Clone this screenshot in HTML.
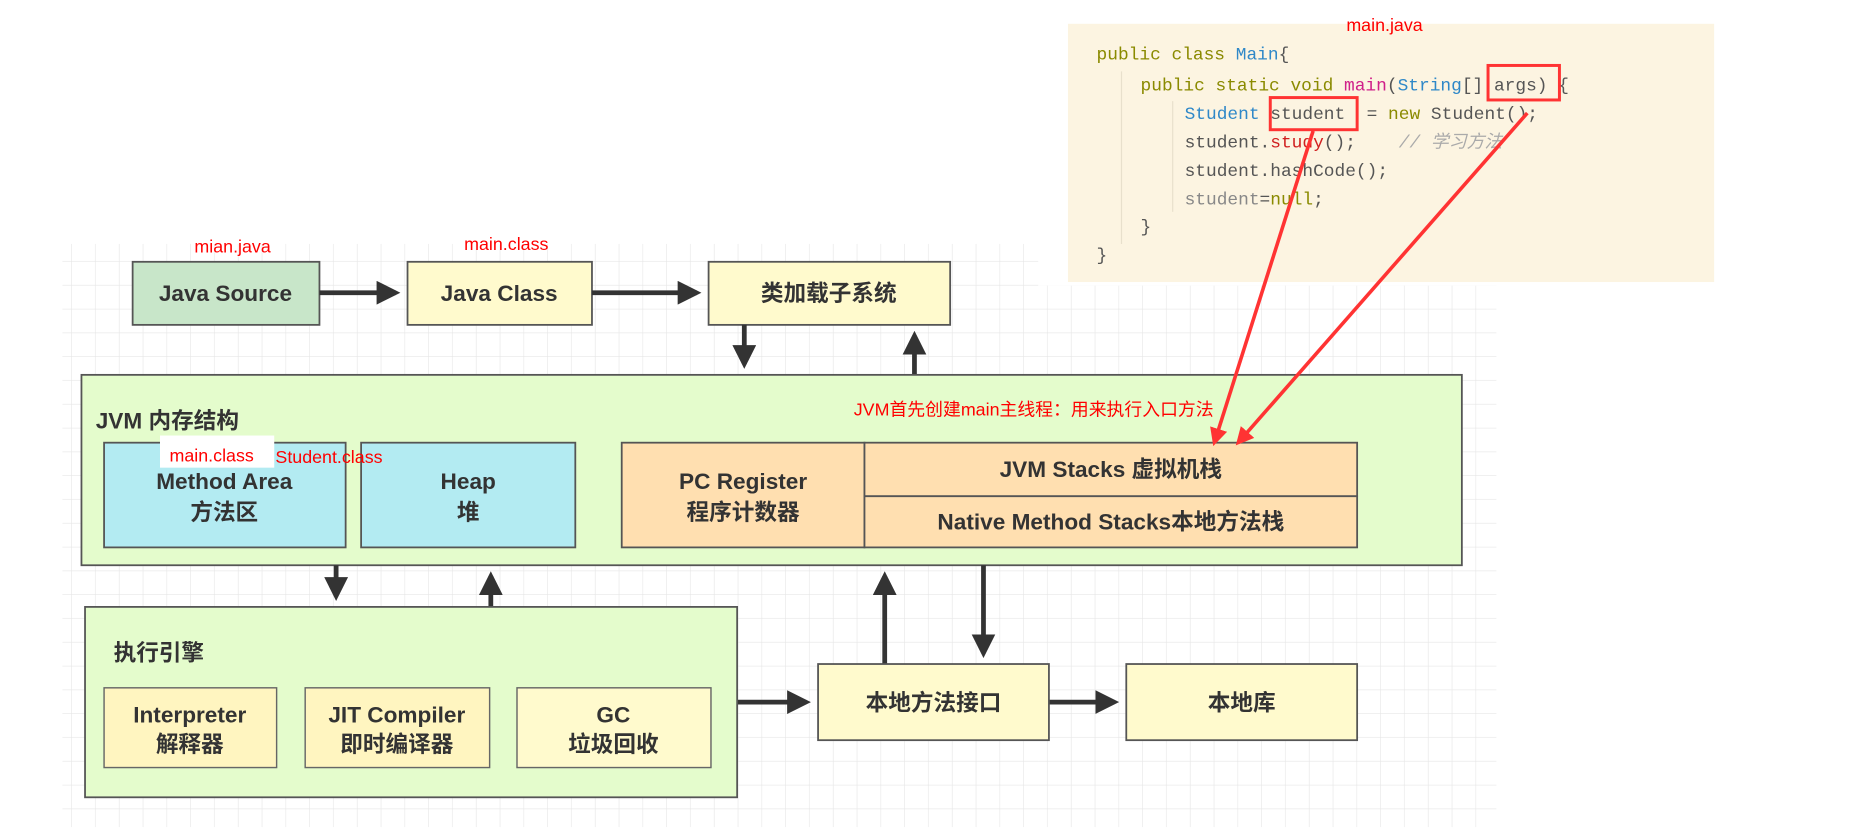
<!DOCTYPE html>
<html><head><meta charset="utf-8"><style>
html,body{margin:0;padding:0;background:#fff;width:1867px;height:833px;overflow:hidden}
svg{display:block}
text{white-space:pre}
.b{font-family:"Liberation Sans","Noto Sans CJK SC",sans-serif;font-weight:bold;fill:#333;font-size:19px}
.r{font-family:"Liberation Sans","Noto Sans CJK SC",sans-serif;fill:#f00;font-size:15px}
.c{font-family:"Liberation Mono","Noto Sans CJK SC",monospace;font-size:15px}
</style></head><body>
<svg width="1867" height="833" viewBox="0 0 1568 700" xmlns="http://www.w3.org/2000/svg">
<defs>
<pattern id="g" width="20" height="20" patternUnits="userSpaceOnUse"><path d="M20 0V20H0" fill="none" stroke="#e6e6e6" stroke-width="1"/></pattern>
<marker id="a" markerWidth="5" markerHeight="5" refX="4" refY="2.5" orient="auto" markerUnits="strokeWidth"><path d="M0 0L5 2.5L0 5z" fill="#333"/></marker>
<marker id="ra" markerWidth="5" markerHeight="5" refX="4" refY="2.5" orient="auto" markerUnits="strokeWidth"><path d="M0 0L5 2.5L0 5z" fill="#f33"/></marker>
</defs>
<rect x="52" y="205" width="820" height="490" fill="url(#g)"/>
<rect x="872" y="240" width="385" height="455" fill="url(#g)"/>
<!-- code panel -->
<rect x="897" y="20" width="543" height="217" fill="#fcf4e1"/>
<text x="1163" y="26" class="r" text-anchor="middle">main.java</text>
<line x1="942" y1="60" x2="942" y2="205" stroke="#e8e0cc"/>
<line x1="985" y1="85" x2="985" y2="178" stroke="#e8e0cc"/>
<g class="c">
<text x="921" y="50"><tspan fill="#8a8a00">public class </tspan><tspan fill="#2f88c8">Main</tspan><tspan fill="#555">{</tspan></text>
<text x="958" y="76"><tspan fill="#8a8a00">public static void </tspan><tspan fill="#d0208a">main</tspan><tspan fill="#555">(</tspan><tspan fill="#2f88c8">String</tspan><tspan fill="#555">[] args) {</tspan></text>
<text x="995" y="100"><tspan fill="#2f88c8">Student </tspan><tspan fill="#555">student  = </tspan><tspan fill="#8a8a00">new </tspan><tspan fill="#555">Student();</tspan></text>
<text x="995" y="124"><tspan fill="#555">student.</tspan><tspan fill="#d02020">study</tspan><tspan fill="#555">();    </tspan><tspan fill="#aaa" font-style="italic">// 学习方法</tspan></text>
<text x="995" y="148" fill="#555">student.hashCode();</text>
<text x="995" y="172"><tspan fill="#888">student</tspan><tspan fill="#555">=</tspan><tspan fill="#8a8a00">null</tspan><tspan fill="#555">;</tspan></text>
<text x="958" y="195" fill="#555">}</text>
<text x="921" y="219" fill="#555">}</text>
</g>
<rect x="1250" y="55" width="60" height="29" fill="none" stroke="#f33" stroke-width="2.5"/>
<rect x="1067" y="82" width="73" height="27" fill="none" stroke="#f33" stroke-width="2.5"/>
<!-- top row -->
<rect x="111" y="220" width="157" height="53" fill="#c8e6c9" stroke="#555" stroke-width="1.5"/>
<text x="189" y="253" class="b" text-anchor="middle">Java Source</text>
<rect x="342" y="220" width="155" height="53" fill="#fffacd" stroke="#555" stroke-width="1.5"/>
<text x="419" y="253" class="b" text-anchor="middle">Java Class</text>
<rect x="595" y="220" width="203" height="53" fill="#fffacd" stroke="#555" stroke-width="1.5"/>
<text x="696" y="253" class="b" text-anchor="middle">类加载子系统</text>
<text x="195" y="212" class="r" text-anchor="middle">mian.java</text>
<text x="425" y="210" class="r" text-anchor="middle">main.class</text>
<g stroke="#333" stroke-width="4" marker-end="url(#a)">
<line x1="268" y1="246" x2="332" y2="246"/>
<line x1="497" y1="246" x2="585" y2="246"/>
<line x1="625" y1="273" x2="625" y2="306"/>
<line x1="768" y1="315" x2="768" y2="282"/>
</g>
<!-- JVM box -->
<rect x="68" y="315" width="1160" height="160" fill="#e4fccc" stroke="#555" stroke-width="1.5"/>
<text x="80" y="360" class="b">JVM 内存结构</text>
<text x="717" y="349" class="r">JVM首先创建main主线程：用来执行入口方法</text>
<rect x="87" y="372" width="203" height="88" fill="#b3ebf2" stroke="#555" stroke-width="1.5"/>
<text x="188" y="411" class="b" text-anchor="middle">Method Area</text>
<text x="188" y="437" class="b" text-anchor="middle">方法区</text>
<rect x="303" y="372" width="180" height="88" fill="#b3ebf2" stroke="#555" stroke-width="1.5"/>
<text x="393" y="411" class="b" text-anchor="middle">Heap</text>
<text x="393" y="437" class="b" text-anchor="middle">堆</text>
<rect x="522" y="372" width="204" height="88" fill="#ffdfb0" stroke="#555" stroke-width="1.5"/>
<text x="624" y="411" class="b" text-anchor="middle">PC Register</text>
<text x="624" y="437" class="b" text-anchor="middle">程序计数器</text>
<rect x="726" y="372" width="414" height="45" fill="#ffdfb0" stroke="#555" stroke-width="1.5"/>
<text x="933" y="401" class="b" text-anchor="middle">JVM Stacks 虚拟机栈</text>
<rect x="726" y="417" width="414" height="43" fill="#ffdfb0" stroke="#555" stroke-width="1.5"/>
<text x="933" y="445" class="b" text-anchor="middle">Native Method Stacks本地方法栈</text>
<rect x="134" y="366" width="96" height="27" fill="#fff"/>
<text x="142" y="388" class="r">main.class</text>
<text x="231" y="389" class="r">Student.class</text>
<!-- lower arrows -->
<g stroke="#333" stroke-width="4" marker-end="url(#a)">
<line x1="282" y1="475" x2="282" y2="501"/>
<line x1="412" y1="510" x2="412" y2="484"/>
<line x1="743" y1="558" x2="743" y2="484"/>
<line x1="826" y1="475" x2="826" y2="549"/>
<line x1="619" y1="590" x2="677" y2="590"/>
<line x1="881" y1="590" x2="936" y2="590"/>
</g>
<!-- exec engine -->
<rect x="71" y="510" width="548" height="160" fill="#e4fccc" stroke="#555" stroke-width="1.5"/>
<text x="95" y="555" class="b">执行引擎</text>
<rect x="87" y="578" width="145" height="67" fill="#fff5c0" stroke="#666" stroke-width="1.2"/>
<text x="159" y="607" class="b" text-anchor="middle">Interpreter</text>
<text x="159" y="632" class="b" text-anchor="middle">解释器</text>
<rect x="256" y="578" width="155" height="67" fill="#fff5c0" stroke="#666" stroke-width="1.2"/>
<text x="333" y="607" class="b" text-anchor="middle">JIT Compiler</text>
<text x="333" y="632" class="b" text-anchor="middle">即时编译器</text>
<rect x="434" y="578" width="163" height="67" fill="#fffacd" stroke="#666" stroke-width="1.2"/>
<text x="515" y="607" class="b" text-anchor="middle">GC</text>
<text x="515" y="632" class="b" text-anchor="middle">垃圾回收</text>
<rect x="687" y="558" width="194" height="64" fill="#fffacd" stroke="#555" stroke-width="1.5"/>
<text x="784" y="597" class="b" text-anchor="middle">本地方法接口</text>
<rect x="946" y="558" width="194" height="64" fill="#fffacd" stroke="#555" stroke-width="1.5"/>
<text x="1043" y="597" class="b" text-anchor="middle">本地库</text>
<!-- red arrows -->
<g stroke="#f33" stroke-width="3" marker-end="url(#ra)">
<line x1="1103" y1="110" x2="1020" y2="372"/>
<line x1="1283" y1="95" x2="1040" y2="372"/>
</g>
</svg>
</body></html>
